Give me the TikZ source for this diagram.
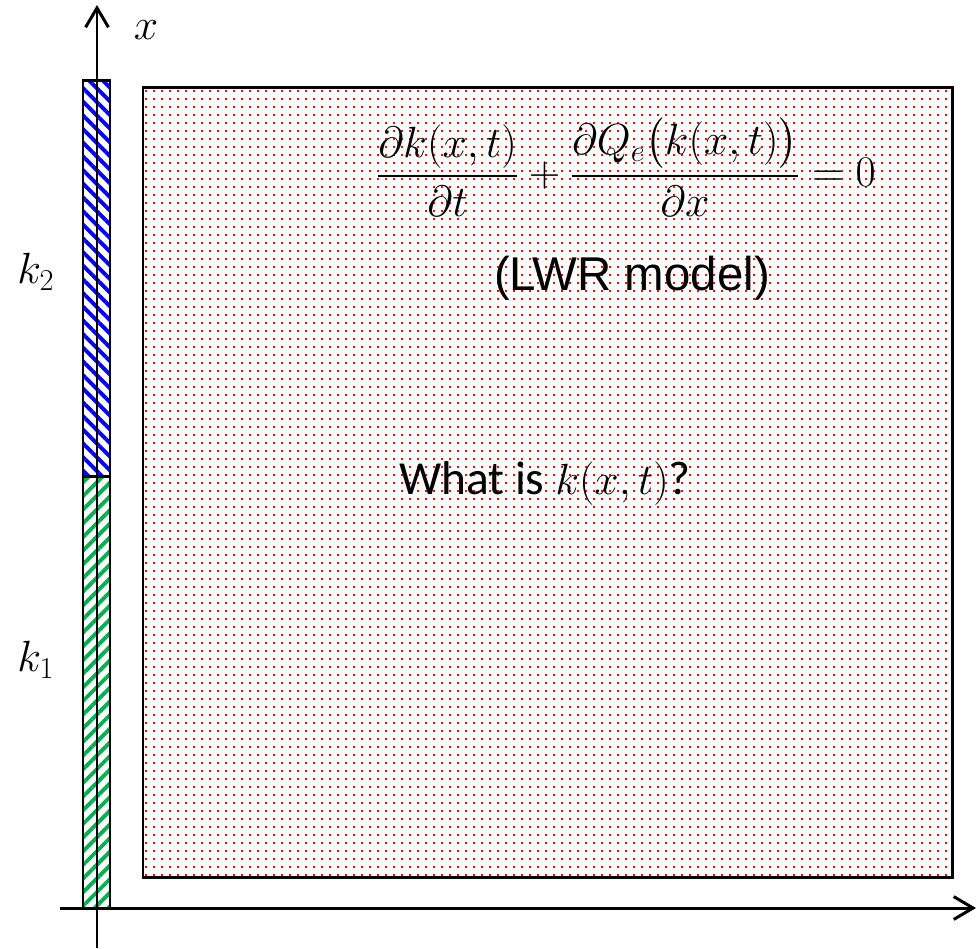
\documentclass[tikz,border=0pt]{standalone}
\usepackage{amsmath,amssymb}
\usepackage{fontspec}
\setmainfont{Carlito}
\newfontfamily\arialfont{Liberation Sans}
\usetikzlibrary{arrows.meta,patterns.meta}
\definecolor{StripeBlue}{HTML}{0000FF}
\definecolor{StripeGreen}{HTML}{00B050}
\definecolor{DotRed}{HTML}{FF0000}
\tikzdeclarepattern{
  name=reddots, type=uncolored,
  bounding box={(0,0) and (4.6pt,4.6pt)},
  tile size={(4.6pt,4.6pt)},
  code={\fill (0,0) rectangle (1.2pt,1.2pt);}
}
\tikzset{
  axis/.style={line width=1.7pt,-{Straight Barb[length=11pt,width=13pt,line width=1.7pt]}},
  barline/.style={draw=black,line width=1.7pt},
  bigtext/.style={font=\fontsize{24}{29}\selectfont,inner sep=0pt},
  labeltext/.style={font=\fontsize{27}{32}\selectfont,inner sep=0pt}
}

\begin{document}
\begin{tikzpicture}[x=0.02cm,y=-0.02cm]
        \useasboundingbox (0,0) rectangle (977,948);
        \coordinate (ybot) at (97,948);
        \coordinate (ytop) at (97,5);
        \coordinate (xleft) at (60,908);
        \coordinate (xright) at (976,908);
        % initial density bar
        \fill[pattern={Lines[angle=-45,distance=5.5pt,line width=2.2pt]},pattern color=StripeBlue] (83,80) rectangle (110,476);
        \fill[pattern={Lines[angle=45,distance=5.5pt,line width=2.2pt]},pattern color=StripeGreen] (83,476) rectangle (110,908);
        \draw[barline] (83,80) rectangle (110,908);
        \draw[barline] (83,476) -- (110,476);
        % unknown region
        \draw[barline,pattern=reddots,pattern color=DotRed] (143,87) rectangle (952,877);
        \draw[axis] (ybot) -- (ytop);
        \draw[axis] (xleft) -- (xright);
        \node[labeltext] (xlab) at (146,30) {$x$};
        \node[labeltext] (ktwo) at (36,272) {$k_2$};
        \node[labeltext] (kone) at (36,660) {$k_1$};
        \node[bigtext] (lwr) at (626,167) {$\displaystyle\frac{\partial k(x,t)}{\partial t}+\frac{\partial Q_e\bigl(k(x,t)\bigr)}{\partial x}=0$};
        \node[labeltext,font=\fontsize{27}{32}\selectfont\arialfont] (lwrname) at (632,278) {(LWR model)};
        \node[labeltext] (question) at (545,483) {What is $k(x,t)$?};
      \end{tikzpicture}
\end{document}
